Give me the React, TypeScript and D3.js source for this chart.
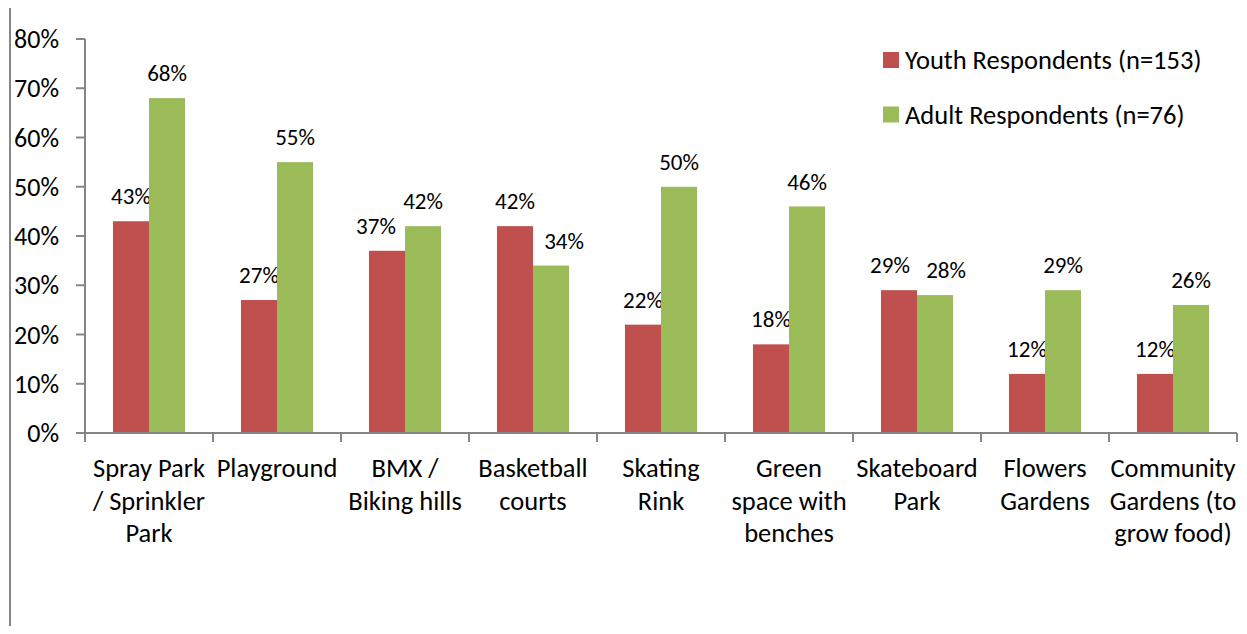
import * as d3 from 'd3'
import React from 'react'

const WIDTH = 1247
const HEIGHT = 634

const categories = [
  ['Spray Park', '/ Sprinkler', 'Park'],
  ['Playground'],
  ['BMX /', 'Biking hills'],
  ['Basketball', 'courts'],
  ['Skating', 'Rink'],
  ['Green', 'space with', 'benches'],
  ['Skateboard', 'Park'],
  ['Flowers', 'Gardens'],
  ['Community', 'Gardens (to', 'grow food)'],
]
const youthValues = [43, 27, 37, 42, 22, 18, 29, 12, 12]
const adultValues = [68, 55, 42, 34, 50, 46, 28, 29, 26]
const yTicks = [0, 10, 20, 30, 40, 50, 60, 70, 80]
const seriesNames = ['Youth Respondents (n=153)', 'Adult Respondents (n=76)']

const COLORS = ['#C0504D', '#9BBB59']
const AXIS = '#868686'
const FONT = 'Carlito, Calibri, Lato, sans-serif'

const margin = { left: 85, right: 10, top: 39, bottom: 201 }

// nudge a data label sideways when it would sit on the neighbour bar's top edge
const labelShift = (own, other, side) => {
  const diff = other - own
  if (Math.abs(diff) >= 10) return 0
  if (Math.abs(diff) <= 2) return side === 0 ? -9 : 11
  return diff > 0 ? (side === 0 ? -11 : 13) : 0
}

export default function App() {
  const plotW = WIDTH - margin.left - margin.right
  const plotH = HEIGHT - margin.top - margin.bottom

  const x = d3
    .scaleBand()
    .domain(categories.map((d, i) => String(i)))
    .range([0, plotW])
  const band = x.bandwidth()
  const barW = band * 0.2815
  const y = d3.scaleLinear().domain([0, 80]).range([plotH, 0])

  const series = [youthValues, adultValues]

  return (
    <svg width={WIDTH} height={HEIGHT} style={{ display: 'block', margin: '-8px' }} fontFamily={FONT}>
      <rect x={10} y={7} width={WIDTH + 20} height={HEIGHT + 20} fill="#fff" stroke={AXIS} strokeWidth={2} />
      <g transform={`translate(${margin.left},${margin.top})`}>
        {/* y axis */}
        <line x1={0} x2={0} y1={0} y2={plotH} stroke={AXIS} strokeWidth={2} />
        {yTicks.map(t => (
          <g key={t} transform={`translate(0,${y(t)})`}>
            <line x1={-9} x2={0} stroke={AXIS} strokeWidth={2} />
            <text x={-26} dy="0.35em" textAnchor="end" fontSize={26} fill="#000">
              {t}%
            </text>
          </g>
        ))}

        {/* bars */}
        {series.map((vals, s) =>
          vals.map((v, i) => {
            const cx = (x(String(i)) as number) + band / 2
            const bx = cx - barW + s * barW
            const shift = labelShift(v, series[1 - s][i], s)
            return (
              <g key={`${s}-${i}`}>
                <rect x={bx} y={y(v)} width={barW} height={plotH - y(v)} fill={COLORS[s]} />
                <text x={bx + barW / 2 + shift} y={y(v) - 25} dy="0.35em" textAnchor="middle" fontSize={23} fill="#000">
                  {v}%
                </text>
              </g>
            )
          })
        )}

        {/* x axis */}
        <line x1={0} x2={plotW} y1={plotH} y2={plotH} stroke={AXIS} strokeWidth={2} />
        {d3.range(categories.length + 1).map(i => (
          <line key={i} x1={i * band} x2={i * band} y1={plotH} y2={plotH + 9} stroke={AXIS} strokeWidth={2} />
        ))}
        {categories.map((lines, i) => (
          <text key={i} textAnchor="middle" fontSize={26.5} fill="#000">
            {lines.map((l, j) => (
              <tspan key={j} x={(x(String(i)) as number) + band / 2} y={plotH + 35 + j * 32.5} dy="0.35em">
                {l}
              </tspan>
            ))}
          </text>
        ))}
      </g>

      {/* legend */}
      {seriesNames.map((name, i) => (
        <g key={name} transform={`translate(883,${52 + i * 54.5})`}>
          <rect width={16} height={16} fill={COLORS[i]} />
          <text x={22} y={8} dy="0.35em" fontSize={26.5} fill="#000">
            {name}
          </text>
        </g>
      ))}
    </svg>
  )
}
